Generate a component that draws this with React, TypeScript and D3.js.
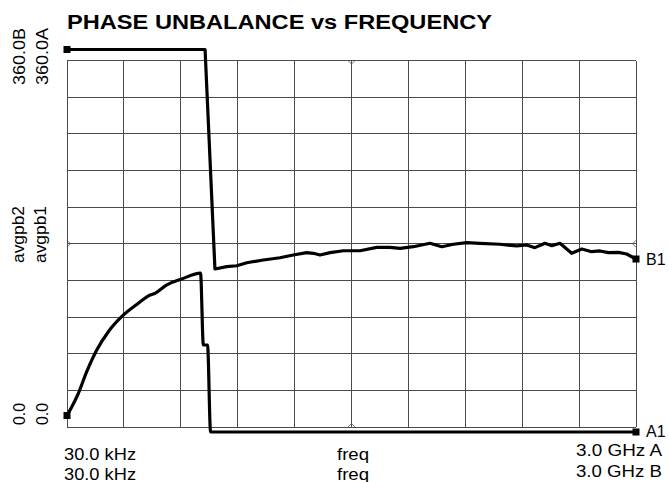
import * as d3 from 'd3';
import React from 'react';

// trace B (starts wrapped at 360, falls to ~170 and wanders)
const freqB = [0.03, 728, 780, 842, 895, 948, 1035, 1123, 1193, 1264, 1299, 1334, 1387, 1457, 1545, 1633, 1703, 1756, 1826, 1914, 1976, 2037, 2107, 2178, 2283, 2371, 2424, 2467, 2520, 2556, 2599, 2661, 2714, 2766, 2810, 2854, 2907, 2951, 3000];
const phaseB = [360, 360, 153.4, 155.6, 156.5, 159.3, 161.9, 164.0, 166.6, 168.8, 168.2, 166.6, 168.8, 170.6, 170.6, 173.8, 173.8, 172.9, 174.4, 177.6, 174.4, 176.7, 178.2, 177.6, 176.7, 175.1, 176.0, 173.5, 177.6, 175.3, 177.6, 168.2, 172.2, 169.7, 170.4, 168.8, 169.1, 167.5, 162.8];

// trace A (rises from ~15 to ~150, then drops to 0)
const freqA = [0.03, 60, 104, 157, 218, 288, 376, 438, 464, 526, 605, 704, 719, 741, 757, 3000];
const phaseA = [15.5, 36.4, 56.8, 77.2, 94.4, 108.5, 121.1, 128.9, 130.5, 138.4, 144.0, 149.6, 81.9, 81.9, 0, 0];

const title = 'PHASE UNBALANCE vs FREQUENCY';
const xStartLabels = ['30.0 kHz', '30.0 kHz'];
const xMidLabels = ['freq', 'freq'];
const xEndLabels = ['3.0 GHz A', '3.0 GHz B'];
const yTopLabels = ['360.0B', '360.0A'];
const yMidLabels = ['avgpb2', 'avgpb1'];
const yBottomLabels = ['0.0', '0.0'];
const traceNames = ['A1', 'B1'];

const W = 670;
const H = 482;
const font = 'Liberation Sans, Arial, Helvetica, sans-serif';

export default function App() {
  const x = d3.scaleLinear().domain([0.03, 3000]).range([67, 636]);
  const y = d3.scaleLinear().domain([0, 360]).range([432, 49.5]);
  const gx = d3.scaleLinear().domain([0, 10]).range([67, 636]);
  const gy = d3.scaleLinear().domain([0, 10]).range([427, 60.5]);
  const divs = d3.range(11);

  const lineA = d3
    .line<[number, number]>()
    .x(d => x(d[0]))
    .y(d => y(d[1]))
    .curve(d3.curveMonotoneX);
  const lineB = d3
    .line<[number, number]>()
    .x(d => x(d[0]))
    .y(d => y(d[1]));

  const ptsA: [number, number][] = freqA.map((f, i) => [f, phaseA[i]]);
  const ptsB: [number, number][] = freqB.map((f, i) => [f, phaseB[i]]);

  const ends = [ptsA[0], ptsA[ptsA.length - 1], ptsB[0], ptsB[ptsB.length - 1]];

  const midX = gx(5);
  const midY = gy(5);
  const d = 3.5;

  return (
    <svg
      width={W}
      height={H}
      style={{ position: 'absolute', left: 0, top: 0, background: '#fff' }}
      fontFamily={font}
    >
      {/* grid */}
      <g stroke="#4a4a4a" strokeWidth={1} shapeRendering="crispEdges">
        {divs.map(i => (
          <line key={'v' + i} x1={gx(i)} x2={gx(i)} y1={gy(0)} y2={gy(10)} />
        ))}
        {divs.map(i => (
          <line key={'h' + i} y1={gy(i)} y2={gy(i)} x1={gx(0)} x2={gx(10)} />
        ))}
      </g>
      {/* centre markers on each edge */}
      <g fill="none" stroke="#555" strokeWidth={0.8}>
        <path d={`M${midX - d},${gy(10)} L${midX},${gy(10) + d} L${midX + d},${gy(10)}`} />
        <path d={`M${midX - d},${gy(0)} L${midX},${gy(0) - d} L${midX + d},${gy(0)}`} />
        <path d={`M${gx(0)},${midY - d} L${gx(0) + d},${midY} L${gx(0)},${midY + d}`} />
        <path d={`M${gx(10)},${midY - d} L${gx(10) - d},${midY} L${gx(10)},${midY + d}`} />
      </g>

      {/* traces */}
      <path d={lineB(ptsB) || ''} fill="none" stroke="#000" strokeWidth={3.2} strokeLinejoin="round" />
      <path d={lineA(ptsA) || ''} fill="none" stroke="#000" strokeWidth={3.2} strokeLinejoin="round" />
      {ends.map((p, i) => (
        <rect key={i} x={x(p[0]) - 3.5} y={y(p[1]) - 3.5} width={7} height={7} fill="#000" />
      ))}

      {/* title */}
      <text x={67} y={29} fontSize={20} fontWeight="bold" textLength={425} lengthAdjust="spacingAndGlyphs">
        {title}
      </text>

      {/* x labels */}
      {xStartLabels.map((t, i) => (
        <text key={'xs' + i} x={64} y={460 + i * 20} fontSize={16} textLength={72} lengthAdjust="spacingAndGlyphs">
          {t}
        </text>
      ))}
      {xMidLabels.map((t, i) => (
        <text key={'xm' + i} x={337} y={460 + i * 20} fontSize={16} textLength={32} lengthAdjust="spacingAndGlyphs">
          {t}
        </text>
      ))}
      {xEndLabels.map((t, i) => (
        <text key={'xe' + i} x={576} y={456 + i * 21} fontSize={16} textLength={86} lengthAdjust="spacingAndGlyphs">
          {t}
        </text>
      ))}

      {/* trace names */}
      <text x={646} y={y(ptsA[ptsA.length - 1][1]) + 5} fontSize={16}>
        {traceNames[0]}
      </text>
      <text x={646} y={y(ptsB[ptsB.length - 1][1]) + 6} fontSize={16}>
        {traceNames[1]}
      </text>

      {/* rotated y labels */}
      {yTopLabels.map((t, i) => (
        <text
          key={'yt' + i}
          transform={`translate(${25 + i * 22.5},85) rotate(-90)`}
          fontSize={16}
          textLength={57}
          lengthAdjust="spacingAndGlyphs"
        >
          {t}
        </text>
      ))}
      {yMidLabels.map((t, i) => (
        <text
          key={'ym' + i}
          transform={`translate(${23.5 + i * 22.5},263) rotate(-90)`}
          fontSize={16}
          textLength={57}
          lengthAdjust="spacingAndGlyphs"
        >
          {t}
        </text>
      ))}
      {yBottomLabels.map((t, i) => (
        <text
          key={'yb' + i}
          transform={`translate(${25 + i * 22.5},425) rotate(-90)`}
          fontSize={16}
          textLength={22}
          lengthAdjust="spacingAndGlyphs"
        >
          {t}
        </text>
      ))}
    </svg>
  );
}
